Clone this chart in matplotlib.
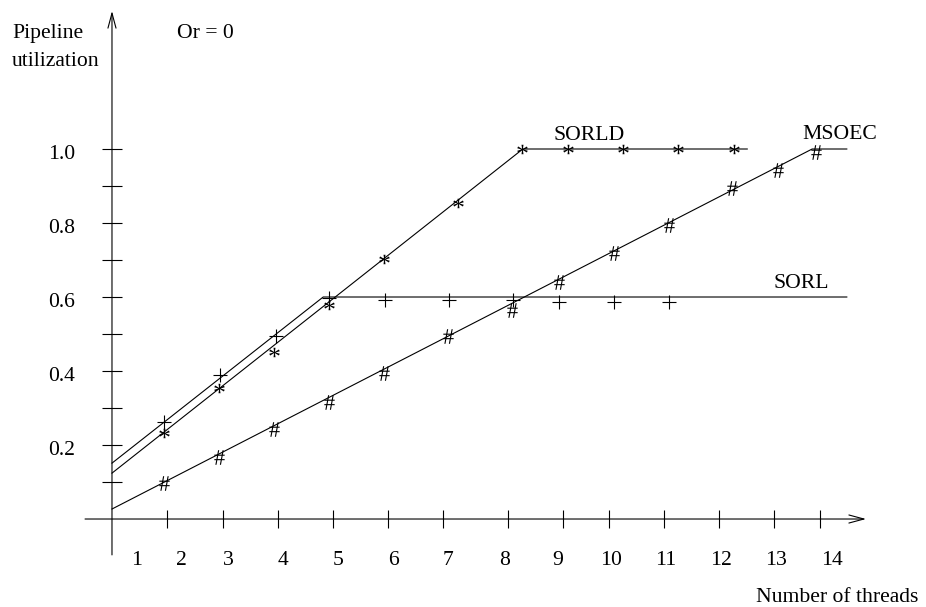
"""Pipeline utilization vs number of threads (Or = 0)."""

import matplotlib
matplotlib.use("Agg")
import matplotlib.pyplot as plt

plt.rcParams['font.family'] = ['Liberation Serif', 'DejaVu Serif']
plt.rcParams['mathtext.fontset'] = 'custom'
plt.rcParams['mathtext.rm'] = 'Liberation Serif'

# SORL: line + "+" marks
sorl_line_x = [1.0, 4.84, 14.36]
sorl_line_y = [0.151, 0.60, 0.60]
sorl_x = [1.95, 2.96, 3.98, 4.95, 5.96, 7.13, 8.29, 9.13, 10.13, 11.13]
sorl_y = [0.262, 0.389, 0.495, 0.597, 0.592, 0.592, 0.592, 0.586, 0.586, 0.586]

# SORLD: line + "*" marks
sorld_line_x = [1.0, 8.47, 12.55]
sorld_line_y = [0.124, 1.0, 1.0]
sorld_x = [1.95, 2.95, 3.95, 4.95, 5.95, 7.29, 8.45, 9.29, 10.29, 11.29, 12.31]
sorld_y = [0.232, 0.354, 0.451, 0.578, 0.703, 0.854, 1.0, 1.0, 1.0, 1.0, 1.0]

# MSOEC: line + "#" marks
msoec_line_x = [1.0, 13.73, 14.36]
msoec_line_y = [0.027, 1.0, 1.0]
msoec_x = [1.95, 2.95, 3.95, 4.95, 5.95, 7.11, 8.27, 9.13, 10.13, 11.13, 12.27, 13.11, 13.8]
msoec_y = [0.097, 0.168, 0.243, 0.316, 0.395, 0.495, 0.565, 0.641, 0.719, 0.795, 0.895, 0.943, 0.992]

# axis ticks and labels
x_ticks = [2.0, 3.02, 4.02, 5.02, 6.02, 7.02, 8.2, 9.2, 10.04, 11.04, 12.04, 13.04, 13.87]
x_labels = ['1', '2', '3', '4', '5', '6', '7', '8', '9', '10', '11', '12', '13', '14']
x_label_pos = [1.44, 2.27, 3.11, 4.11, 5.11, 6.11, 7.11, 8.13, 9.11, 10.07, 11.07, 12.07, 13.07, 14.09]
y_ticks = [0.1, 0.2, 0.3, 0.4, 0.5, 0.6, 0.7, 0.8, 0.9, 1.0]
y_labels = ['0.2', '0.4', '0.6', '0.8', '1.0']
y_label_pos = [0.2, 0.4, 0.6, 0.8, 1.0]

FS = 15.6
LW = 0.8

fig = plt.figure(figsize=(9.26, 6.07), dpi=100)
ax = fig.add_axes([0, 0, 1, 1])
ax.set_xlim(-1.036, 15.8)
ax.set_ylim(-0.2378, 1.4027)
ax.axis('off')

# axes with open arrow heads
arrow = dict(arrowstyle='->,head_length=1.08,head_width=0.29', lw=LW,
             color='black', shrinkA=0, shrinkB=0, mutation_scale=10)
ax.annotate('', xy=(14.71, 0), xytext=(0.51, 0), arrowprops=arrow)
ax.annotate('', xy=(1.0, 1.373), xytext=(1.0, -0.097), arrowprops=arrow)

# tick marks
ax.plot(x_ticks, [0] * len(x_ticks), ls='none', marker='|', ms=13,
        mew=LW, color='black')
ax.plot([1.0] * len(y_ticks), y_ticks, ls='none', marker='_', ms=14,
        mew=LW, color='black')

for lab, xp in zip(x_labels, x_label_pos):
    ax.text(xp, -0.123, lab, ha='center', va='baseline', fontsize=FS)
for lab, yp in zip(y_labels, y_label_pos):
    ax.text(0.327, yp - 0.027, lab, ha='right', va='baseline', fontsize=FS)

# series lines
ax.plot(sorl_line_x, sorl_line_y, color='black', lw=LW)
ax.plot(sorld_line_x, sorld_line_y, color='black', lw=LW)
ax.plot(msoec_line_x, msoec_line_y, color='black', lw=LW)

# series marks (glyphs like the original)
ax.plot(sorl_x, sorl_y, ls='none', marker='+', ms=9.5,
        color='black', mew=0.8)
ax.plot(sorld_x, sorld_y, ls='none', marker=r'$\mathrm{*}$', ms=7.5,
        color='black', mew=0)
ax.plot(msoec_x, msoec_y, ls='none', marker=r'$\mathrm{\#}$', ms=10.5,
        color='black', mew=0)

# labels
ax.text(-0.818, 1.300, 'Pipeline', ha='left', va='baseline', fontsize=FS)
ax.text(-0.818, 1.224, 'utilization', ha='left', va='baseline', fontsize=FS)
ax.text(2.18, 1.300, 'Or = 0', ha='left', va='baseline', fontsize=FS)
ax.text(9.02, 1.024, 'SORLD', ha='left', va='baseline', fontsize=FS)
ax.text(13.545, 1.027, 'MSOEC', ha='left', va='baseline', fontsize=FS)
ax.text(13.02, 0.624, 'SORL', ha='left', va='baseline', fontsize=FS)
ax.text(12.71, -0.224, 'Number of threads', ha='left', va='baseline', fontsize=FS)

fig.savefig('out.png', dpi=100)
